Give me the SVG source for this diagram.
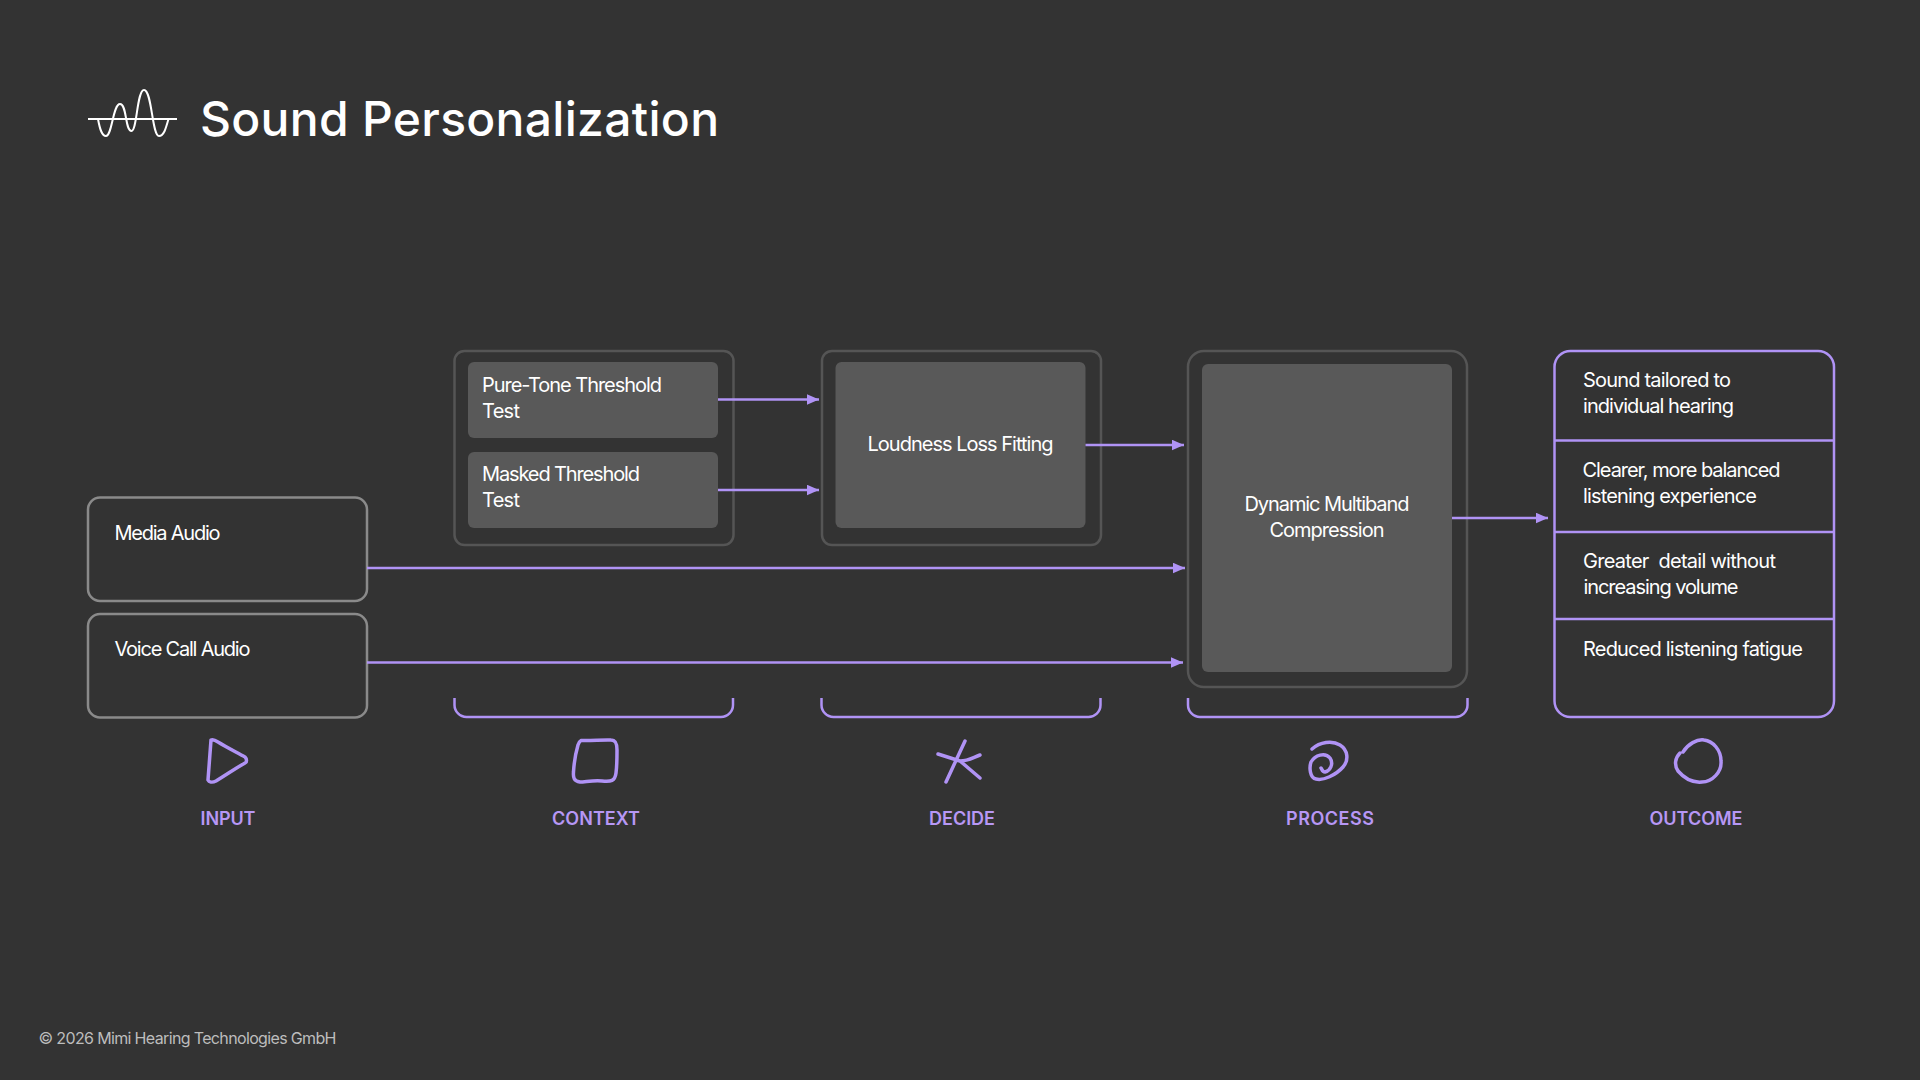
<svg xmlns="http://www.w3.org/2000/svg" width="1920" height="1080" viewBox="0 0 1920 1080">
<style>
text{font-family:"Inter","Liberation Sans",sans-serif;fill:#fff;font-size:20px;white-space:pre}
.title{font-size:48px;font-weight:500}
.lab{font-size:18px;font-weight:600;fill:#b797f5;text-anchor:middle}
.foot{font-size:16px;fill:#bdbdbd}
.mid{text-anchor:middle}
.input{fill:none;stroke:#8a8a8a;stroke-width:2.5}
.outer{fill:none;stroke:#555;stroke-width:2.5}
.inner{fill:#595959}
.pl{fill:none;stroke:#b093f5;stroke-width:2.5}
.ic{fill:none;stroke:#b093f5;stroke-width:3.5;stroke-linecap:round;stroke-linejoin:round}
.con{fill:none;stroke:#b093f5;stroke-width:2.5;marker-end:url(#ah)}
</style>
<defs><marker id="ah" markerUnits="userSpaceOnUse" markerWidth="13" markerHeight="11" refX="12.5" refY="5.5" orient="auto"><path d="M0 0L12.5 5.5L0 11Z" fill="#b093f5"/></marker></defs>
<rect width="1920" height="1080" fill="#333"/>
<g id="header">
<path d="M88 119H177" fill="none" stroke="#fff" stroke-width="2"/>
<path d="M98 119C100 130 102 136 106 136C112 136 113 104 120 104C127 104 125 131 131.500 131C137 131 137 90 144 90C152 90 152 136 159 136C164 136 166 128 168.500 119" fill="none" stroke="#fff" stroke-width="2"/>
<text class="title" x="200" y="136" textLength="519">Sound Personalization</text>
</g>
<g id="node-media"><rect class="input" x="88" y="497.500" width="279" height="103.500" rx="12"/><text x="114.500" y="540" textLength="106">Media Audio</text></g>
<g id="node-voice"><rect class="input" x="88" y="614" width="279" height="103.500" rx="12"/><text x="114.500" y="656" textLength="136">Voice Call Audio</text></g>
<g id="node-context"><rect class="outer" x="454.500" y="351" width="279" height="194" rx="10"/>
<rect class="inner" x="468" y="362" width="250" height="76" rx="6"/><text x="482" y="391.500" textLength="180">Pure-Tone Threshold</text><text x="482" y="417.500" textLength="38">Test</text>
<rect class="inner" x="468" y="452" width="250" height="76" rx="6"/><text x="482" y="480.500" textLength="158">Masked Threshold</text><text x="482" y="506.500" textLength="38">Test</text></g>
<g id="node-decide"><rect class="outer" x="822" y="351" width="279" height="194" rx="10"/><rect class="inner" x="835.500" y="362" width="250" height="166" rx="6"/><text class="mid" x="960.500" y="451" textLength="186">Loudness Loss Fitting</text></g>
<g id="node-process"><rect class="outer" x="1188" y="351" width="279" height="336" rx="16"/><rect class="inner" x="1202" y="364" width="250" height="308" rx="6"/><text class="mid" x="1327" y="510.500" textLength="165">Dynamic Multiband</text><text class="mid" x="1327" y="536.500" textLength="115">Compression</text></g>
<g id="node-outcome"><rect class="pl" x="1554.500" y="351" width="279.500" height="366" rx="16"/><path class="pl" d="M1554.500 440.500H1834M1554.500 532H1834M1554.500 619H1834"/>
<text x="1583" y="386.500" textLength="148">Sound tailored to</text><text x="1583" y="412.500" textLength="151">individual hearing</text>
<text x="1582.500" y="476.500" textLength="198">Clearer, more balanced</text><text x="1583" y="502.500" textLength="174">listening experience</text>
<text x="1583" y="567.500" textLength="193">Greater  detail without</text><text x="1583.500" y="593.500" textLength="155">increasing volume</text>
<text x="1583" y="656" textLength="220">Reduced listening fatigue</text></g>
<g id="connectors">
<path class="con" d="M718 399.500H819"/><path class="con" d="M718 490H819"/><path class="con" d="M1085.500 445H1184"/><path class="con" d="M367 568H1185"/><path class="con" d="M367 662.500H1183"/><path class="con" d="M1452 518H1548"/>
</g>
<g id="brackets"><path class="pl" d="M454.500 698V705A12 12 0 0 0 466.500 717H721A12 12 0 0 0 733 705V698"/><path class="pl" d="M821.500 698V705A12 12 0 0 0 833.500 717H1088A12 12 0 0 0 1100.500 705V698"/><path class="pl" d="M1188 698V705A12 12 0 0 0 1200 717H1455A12 12 0 0 0 1467.500 705V698"/></g>
<g id="stage-input"><path class="ic" d="M211 740C213 739 215 740 218 742C226 747 236 752 245 757C247 759 247 762 245 763C236 768 226 775 216 781C212 783 209 782 208 780C209 768 210 752 211 740Z"/><text class="lab" x="228" y="825" textLength="55">INPUT</text></g>
<g id="stage-context"><path class="ic" d="M581 740.500C591 741 603 739.500 611 740C616 740 617 744 617 750C617 757 617 766 616 773C615 781 611 782 602 781C594 780 585 782 580 782C574 781 573 778 573.500 772C574 763 576 752 578 745C579 742 580 741 581 740.500Z"/><text class="lab" x="596" y="825" textLength="88">CONTEXT</text></g>
<g id="stage-decide"><path class="ic" d="M965 741L946 782M938 754L960 761C968 761 972 758 980 755M960 761L980 778"/><text class="lab" x="962" y="825" textLength="66">DECIDE</text></g>
<g id="stage-process"><path class="ic" d="M1312 749C1320 742 1332 740 1340 745C1348 750 1349 760 1343 767C1336 775 1323 781 1316 779C1310 778 1309 768 1311 762C1315 755 1325 752 1330 758C1334 764 1330 771 1325 772C1322 772 1322 769 1321 768"/><text class="lab" x="1330" y="825" textLength="88">PROCESS</text></g>
<g id="stage-outcome"><path class="ic" d="M1683 752C1688 744 1697 739 1704 740C1713 741 1721 750 1721 761C1722 772 1712 782 1702 782C1692 783 1684 778 1678 771C1674 765 1675 758 1680 753"/><text class="lab" x="1696" y="825" textLength="93">OUTCOME</text></g>
<text class="foot" x="38.500" y="1044" textLength="298">© 2026 Mimi Hearing Technologies GmbH</text>
</svg>
